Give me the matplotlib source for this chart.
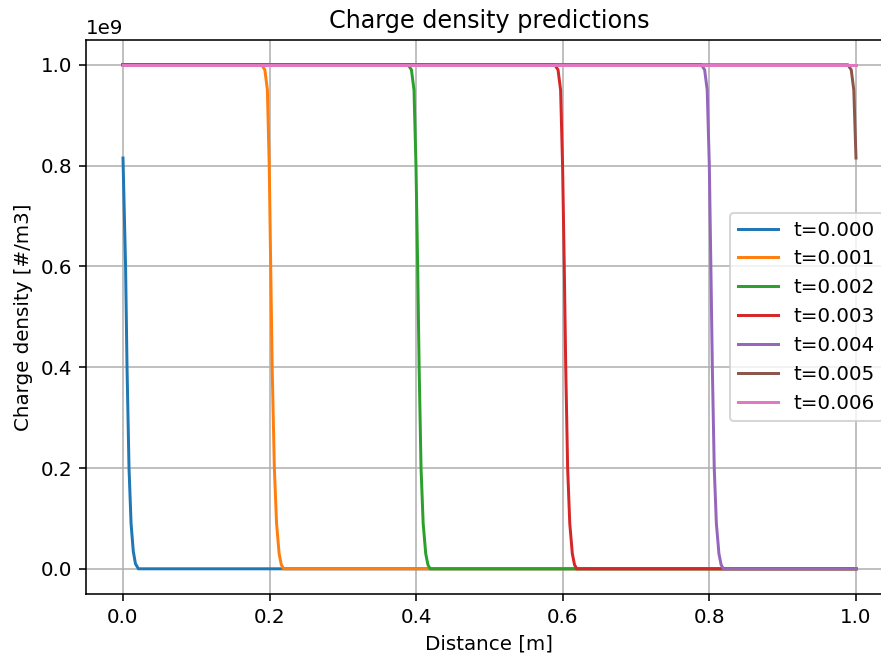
import matplotlib
matplotlib.use("Agg")
import matplotlib.pyplot as plt
import numpy as np

# charge density fronts (units of 1e9 #/m3)
labels = ["t=0.000", "t=0.001", "t=0.002", "t=0.003", "t=0.004", "t=0.005", "t=0.006"]

x_t0 = [0.0, 0.0035, 0.0055, 0.0082, 0.011, 0.014, 0.017, 0.021, 1.0]
y_t0 = [0.815, 0.60, 0.40, 0.20, 0.09, 0.035, 0.01, 0.0, 0.0]

x_t1 = [0.0, 0.189, 0.1935, 0.197, 0.1995, 0.2015, 0.2035, 0.2065, 0.2095, 0.213, 0.216, 0.219, 1.0]
y_t1 = [1.0, 1.0, 0.99, 0.95, 0.80, 0.60, 0.40, 0.20, 0.09, 0.03, 0.008, 0.0, 0.0]

x_t2 = [0.0, 0.389, 0.3935, 0.397, 0.3997, 0.402, 0.404, 0.4066, 0.4095, 0.413, 0.416, 0.419, 1.0]
y_t2 = [1.0, 1.0, 0.99, 0.95, 0.80, 0.60, 0.40, 0.20, 0.09, 0.03, 0.008, 0.0, 0.0]

x_t3 = [0.0, 0.589, 0.5935, 0.597, 0.5997, 0.602, 0.604, 0.6066, 0.6095, 0.613, 0.616, 0.619, 1.0]
y_t3 = [1.0, 1.0, 0.99, 0.95, 0.80, 0.60, 0.40, 0.20, 0.09, 0.03, 0.008, 0.0, 0.0]

x_t4 = [0.0, 0.789, 0.7935, 0.797, 0.7999, 0.802, 0.804, 0.8066, 0.8095, 0.813, 0.816, 0.819, 1.0]
y_t4 = [1.0, 1.0, 0.99, 0.95, 0.80, 0.60, 0.40, 0.20, 0.09, 0.03, 0.008, 0.0, 0.0]

x_t5 = [0.0, 0.989, 0.9935, 0.997, 1.0]
y_t5 = [1.0, 1.0, 0.99, 0.95, 0.815]

x_t6 = [0.0, 1.0]
y_t6 = [1.0, 1.0]

xs = [x_t0, x_t1, x_t2, x_t3, x_t4, x_t5, x_t6]
ys = [y_t0, y_t1, y_t2, y_t3, y_t4, y_t5, y_t6]

dpi = 143
fig = plt.figure(figsize=(881 / dpi, 661 / dpi), dpi=dpi)
ax = fig.add_axes([86.35 / 881, 67 / 661, 806.3 / 881, 554.4 / 661])

for i in range(len(labels)):
    ax.plot(xs[i], np.array(ys[i]) * 1e9, label=labels[i])

ax.set_xlim(-0.05, 1.05)
ax.set_ylim(-0.05e9, 1.05e9)
ax.set(xlabel="Distance [m]", ylabel="Charge density [#/m3]", title="Charge density predictions")
ax.grid()
ax.legend(loc="center right")

fig.savefig("out.png", dpi=dpi)
